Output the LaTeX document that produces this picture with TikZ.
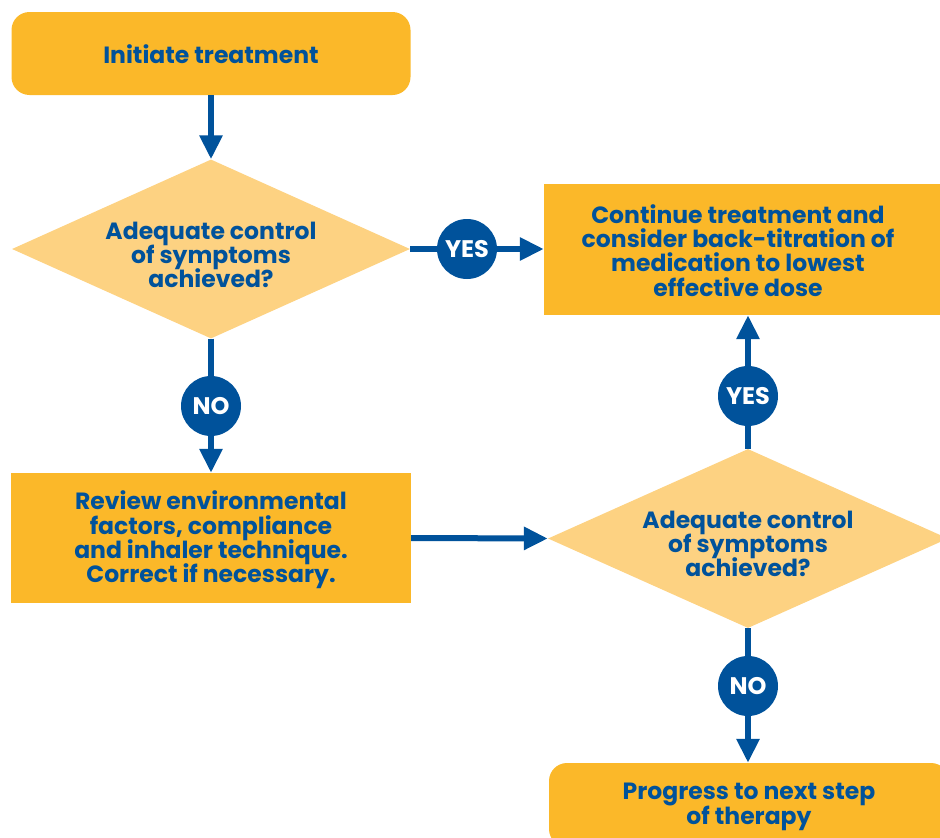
\documentclass[tikz,border=0pt]{standalone}
\usepackage{fontspec}
\setmainfont{Poppins}[BoldFont={Poppins Bold}]
\usetikzlibrary{shapes.geometric,arrows.meta}
\definecolor{boxor}{RGB}{251,184,41}
\definecolor{diaor}{RGB}{253,210,130}
\definecolor{navy}{RGB}{0,82,155}
\newcommand\tightlines{\lineskiplimit=-50pt\relax\lineskip=0pt\relax}
\begin{document}
\begin{tikzpicture}[x=1pt,y=-1pt,
  txt/.style={font={\fontsize{23.5}{24.3}\selectfont\bfseries\tightlines}, text=navy, align=center, inner sep=0pt},
  stepbox/.style={fill=boxor, inner sep=0pt},
  roundbox/.style={stepbox, rounded corners=18pt},
  decision/.style={diamond, fill=diaor, inner sep=0pt, aspect=2.24},
  badge/.style={circle, fill=navy, text=white, minimum size=60pt, inner sep=0pt,
    font=\fontsize{24}{26}\selectfont\bfseries},
  flow/.style={draw=navy, line width=6pt, -{Triangle[width=22pt,length=24pt]}}
]
\useasboundingbox (0,0) rectangle (940,838);
\clip (0,0) rectangle (940,838);

\node[roundbox, minimum width=399pt, minimum height=83pt] (start) at (211,53.5) {};
\node[decision, minimum width=398pt, minimum height=179pt] (d1) at (211,249) {};
\node[stepbox, minimum width=396pt, minimum height=131pt] (cont) at (742,249.5) {};
\node[stepbox, minimum width=400pt, minimum height=130pt] (review) at (211,538) {};
\node[decision, minimum width=400pt, minimum height=179pt] (d2) at (748,538.5) {};
\node[roundbox, minimum width=400pt, minimum height=84pt] (prog) at (749,805) {};

\node[txt] (startT) at (211,54) {Initiate treatment};
\node[txt] (d1T) at (211,255) {Adequate control\\of symptoms\\achieved?};
\node[txt] (contT) at (738,250.5) {Continue treatment and\\consider back-titration of\\medication to lowest\\effective dose};
\node[txt] (reviewT) at (211,540) {Review environmental\\factors, compliance\\and inhaler technique.\\Correct if necessary.};
\node[txt] (d2T) at (748,544) {Adequate control\\of symptoms\\achieved?};
\node[txt] (progT) at (749,807) {Progress to next step\\of therapy};

\draw[flow] (start.south) -- (d1.north);
\draw[flow] (d1.east) -- (cont.west |- d1.east);
\draw[flow] (d1.south) -- (review.north);
\draw[flow] (review.east) -- (d2.west);
\draw[flow] (d2.north) -- (d2.north |- cont.south);
\draw[flow] (d2.south) -- (d2.south |- prog.north);

\node[badge] (yes1) at (467,249) {YES};
\node[badge] (no1) at (211,406) {NO};
\node[badge] (yes2) at (748,396) {YES};
\node[badge] (no2) at (748,686) {NO};
\end{tikzpicture}
\end{document}
